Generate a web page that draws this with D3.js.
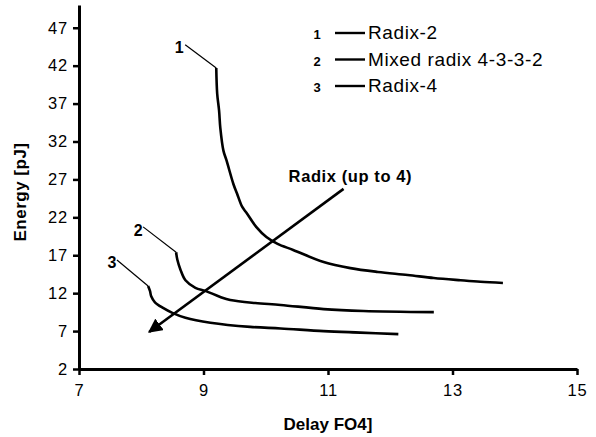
<!DOCTYPE html>
<html>
<head>
<meta charset="utf-8">
<script src="https://cdn.jsdelivr.net/npm/d3@7"></script>
<style>
  body { margin: 0; background: #fff; }
  text { font-family: "Liberation Sans", Arial, sans-serif; }
</style>
</head>
<body>
<div id="chart"></div>
<script>

// Curves (delay in FO4, energy in pJ)
const radix2 = [
    [9.205, 41.7], [9.22, 38.3], [9.25, 36.1], [9.27, 33.8], [9.32, 30.8],
    [9.37, 29.5], [9.48, 26.4], [9.54, 25.1], [9.62, 23.4], [9.69, 22.6],
    [9.85, 20.7], [10.01, 19.4], [10.19, 18.5], [10.44, 17.7], [10.93, 16.1],
    [11.36, 15.3], [11.80, 14.8], [12.28, 14.4], [12.70, 14.0], [13.13, 13.7],
    [13.45, 13.5], [13.81, 13.35]
];
const mixedRadix = [
    [8.56, 17.4], [8.58, 16.4], [8.63, 15.1], [8.71, 13.7], [8.87, 12.7],
    [9.03, 12.3], [9.27, 11.5], [9.43, 11.1], [9.83, 10.7], [10.24, 10.45],
    [10.93, 9.9], [11.57, 9.65], [12.70, 9.5]
];
const radix4 = [
    [8.11, 12.95], [8.14, 12.3], [8.16, 11.6], [8.22, 10.8], [8.35, 10.05],
    [8.50, 9.4], [8.71, 8.75], [9.11, 8.1], [9.75, 7.55], [10.24, 7.35],
    [10.93, 7.0], [11.52, 6.8], [12.13, 6.6]
];

const seriesNames = ["Radix-2", "Mixed radix 4-3-3-2", "Radix-4"];
const seriesIds = ["1", "2", "3"];

const xTicks = [7, 9, 11, 13, 15];
const yTicks = [2, 7, 12, 17, 22, 27, 32, 37, 42, 47];

// curve number labels: [label x, label baseline y, leader start x, leader start y]
const curveLabels = [
    [8.61, 43.7, 8.706, 44.76],
    [7.95, 19.55, 8.03, 20.74],
    [7.53, 15.33, 7.61, 16.38]
];

// trend arrow, from -> to
const arrowFrom = [11.25, 25.75];
const arrowTo = [8.127, 6.88];
const arrowText = "Radix (up to 4)";
const arrowTextPos = [11.36, 26.68];

const width = 596, height = 437;

const svg = d3.select("#chart")
    .append("svg")
    .attr("width", width)
    .attr("height", height);

let x = d3.scaleLinear().domain([7, 15]).range([79, 577]);
let y = d3.scaleLinear().domain([2, 50]).range([369, 5]);

// Axes
let xAxis = svg.append("g")
    .attr("transform", "translate(0," + y(2) + ")")
    .call(d3.axisBottom(x).tickValues(xTicks).tickSize(6).tickSizeOuter(0).tickPadding(6));

let yAxis = svg.append("g")
    .attr("transform", "translate(" + x(7) + ",0)")
    .call(d3.axisLeft(y).tickValues(yTicks).tickSize(6).tickSizeOuter(0).tickPadding(5));

[xAxis, yAxis].forEach(function(a) {
    a.select(".domain").attr("stroke", "#000").attr("stroke-width", 3);
    a.selectAll(".tick line").attr("stroke", "#000").attr("stroke-width", 2.5);
    a.selectAll(".tick text")
        .attr("fill", "#000")
        .style("font-size", "16.5px")
        .style("letter-spacing", "0.8px")
        .style("font-family", "'Liberation Sans', Arial, sans-serif");
});
xAxis.selectAll(".tick text").attr("dy", "0.9em");

// Axis titles
svg.append("text")
    .attr("x", (x(7) + x(15)) / 2)
    .attr("y", 430)
    .attr("text-anchor", "middle")
    .style("font-size", "17px")
    .style("font-weight", "bold")
    .text("Delay FO4]");

svg.append("text")
    .attr("transform", "translate(26,192) rotate(-90)")
    .attr("text-anchor", "middle")
    .style("font-size", "17px")
    .style("font-weight", "bold")
    .style("letter-spacing", "0.5px")
    .text("Energy [pJ]");

// Curves
let line = d3.line()
    .x(d => x(d[0]))
    .y(d => y(d[1]))
    .curve(d3.curveCatmullRom.alpha(0.5));

let allSeries = [radix2, mixedRadix, radix4];

svg.selectAll(".curve")
    .data(allSeries)
    .enter()
    .append("path")
    .attr("class", "curve")
    .attr("d", line)
    .attr("fill", "none")
    .attr("stroke", "#000")
    .attr("stroke-width", 2.6)
    .attr("stroke-linejoin", "round");

// Curve number labels with leader lines
curveLabels.forEach(function(l, i) {
    svg.append("line")
        .attr("x1", x(l[2])).attr("y1", y(l[3]))
        .attr("x2", x(allSeries[i][0][0])).attr("y2", y(allSeries[i][0][1]))
        .attr("stroke", "#000")
        .attr("stroke-width", 1.2);
    svg.append("text")
        .attr("x", x(l[0]))
        .attr("y", y(l[1]))
        .attr("text-anchor", "middle")
        .style("font-size", "16px")
        .style("font-weight", "bold")
        .text(seriesIds[i]);
});

// Arrow
svg.append("defs").append("marker")
    .attr("id", "head")
    .attr("viewBox", "0 0 10 10")
    .attr("refX", 9).attr("refY", 5)
    .attr("markerWidth", 5.5).attr("markerHeight", 5.5)
    .attr("markerUnits", "strokeWidth")
    .attr("orient", "auto")
    .append("path")
    .attr("d", "M0,0 L10,5 L0,10 Z")
    .attr("fill", "#000");

svg.append("line")
    .attr("x1", x(arrowFrom[0])).attr("y1", y(arrowFrom[1]))
    .attr("x2", x(arrowTo[0])).attr("y2", y(arrowTo[1]))
    .attr("stroke", "#000")
    .attr("stroke-width", 2.6)
    .attr("marker-end", "url(#head)");

svg.append("text")
    .attr("x", x(arrowTextPos[0]))
    .attr("y", y(arrowTextPos[1]))
    .attr("text-anchor", "middle")
    .style("font-size", "16.5px")
    .style("font-weight", "bold")
    .style("letter-spacing", "0.6px")
    .text(arrowText);

// Legend
let legend = svg.selectAll(".legend")
    .data(seriesNames)
    .enter()
    .append("g")
    .attr("class", "legend")
    .attr("transform", (d, i) => "translate(0," + (39 + i * 26.5) + ")");

legend.append("text")
    .attr("x", 317)
    .attr("text-anchor", "middle")
    .style("font-size", "13px")
    .style("font-weight", "bold")
    .text((d, i) => seriesIds[i]);

legend.append("line")
    .attr("x1", 335).attr("x2", 365)
    .attr("y1", -6).attr("y2", -6)
    .attr("stroke", "#000")
    .attr("stroke-width", 2.4);

legend.append("text")
    .attr("x", 368)
    .style("font-size", "19px")
    .style("letter-spacing", "0.6px")
    .text(d => d);

</script>
</body>
</html>
